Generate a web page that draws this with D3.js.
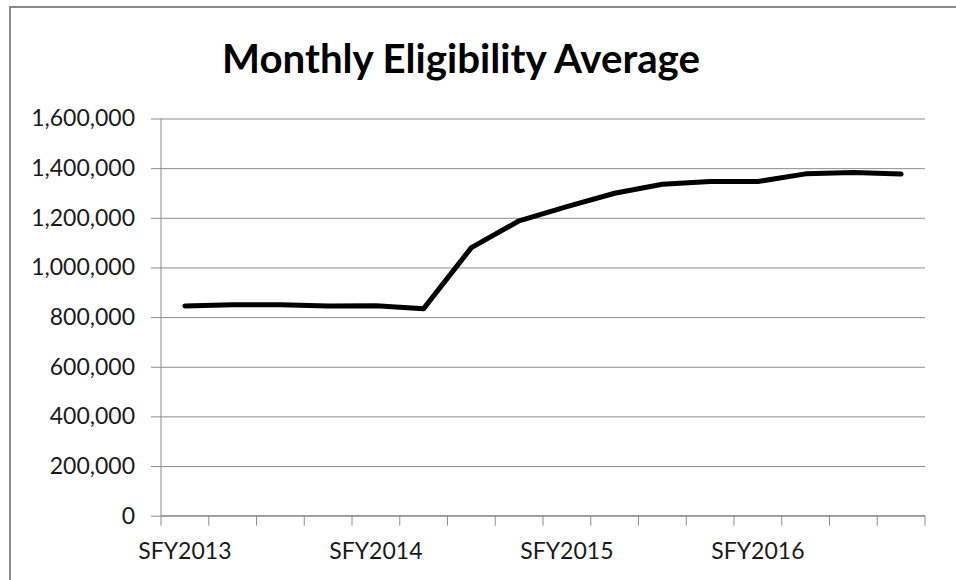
<!DOCTYPE html>
<html><head><meta charset="utf-8">
<script src="https://cdn.jsdelivr.net/npm/d3@7"></script>
<style>
html,body{margin:0;padding:0;background:#fff;}
svg{display:block;}
</style></head>
<body>
<svg id="chart" width="956" height="580"></svg>
<script>
const title = "Monthly Eligibility Average";
const categories = ["SFY2013 Q1","SFY2013 Q2","SFY2013 Q3","SFY2013 Q4",
  "SFY2014 Q1","SFY2014 Q2","SFY2014 Q3","SFY2014 Q4",
  "SFY2015 Q1","SFY2015 Q2","SFY2015 Q3","SFY2015 Q4",
  "SFY2016 Q1","SFY2016 Q2","SFY2016 Q3","SFY2016 Q4"];
const tickLabels = ["SFY2013","","","","SFY2014","","","","SFY2015","","","","SFY2016","","",""];
const values = [845000, 850000, 850000, 845000, 846000, 834000, 1080000, 1188000,
  1245000, 1299000, 1335000, 1346000, 1346000, 1377000, 1382000, 1376000];
const yTicks = [0, 200000, 400000, 600000, 800000, 1000000, 1200000, 1400000, 1600000];

const svg = d3.select("#chart");
const font = "Lato, 'Open Sans', sans-serif";
const gridColor = "#8c8c8c";

// chart border
svg.append("rect").attr("x", 10).attr("y", 7).attr("width", 960).attr("height", 600)
  .attr("fill", "none").attr("stroke", "#8a8a8a").attr("stroke-width", 2);

const pLeft = 161, pRight = 925, pTop = 118.5, pBottom = 515.7;
const x = d3.scaleBand().domain(categories).range([pLeft, pRight]).padding(0);
const y = d3.scaleLinear().domain([0, 1600000]).range([pBottom, pTop]);

// gridlines + y axis
const yAxis = d3.axisLeft(y).tickValues(yTicks).tickFormat(d3.format(",")).tickSize(10).tickPadding(16);
const gy = svg.append("g").attr("transform", `translate(${pLeft},0)`).call(yAxis);
gy.select(".domain").attr("stroke", gridColor).attr("d", `M0,${pTop}V${pBottom}`);
gy.selectAll(".tick line").attr("stroke", gridColor).attr("x1", -10).attr("x2", pRight - pLeft);
gy.selectAll(".tick text").attr("font-family", font).attr("font-size", 23).attr("fill", "#1a1a1a");

// x axis
const xAxis = d3.axisBottom(x).tickSize(0).tickPadding(27).tickFormat((d, i) => tickLabels[i]);
const gx = svg.append("g").attr("transform", `translate(0,${pBottom})`).call(xAxis);
gx.select(".domain").attr("stroke", gridColor).attr("d", `M${pLeft},0H${pRight}`);
gx.selectAll(".tick text").attr("font-family", font).attr("font-size", 23).attr("fill", "#1a1a1a").attr("dy", "0.71em");
const bounds = categories.map(c => x(c)).concat([x.range()[1]]);
gx.selectAll("line.qtick").data(bounds).join("line").attr("class", "qtick")
  .attr("x1", d => d).attr("x2", d => d).attr("y1", 0).attr("y2", 10)
  .attr("stroke", gridColor);

// data line
const line = d3.line().x((d, i) => x(categories[i]) + x.bandwidth() / 2).y(d => y(d));
svg.append("path").datum(values).attr("d", line).attr("fill", "none")
  .attr("stroke", "#000").attr("stroke-width", 5).attr("stroke-linejoin", "round").attr("stroke-linecap", "round");

// title
const t = svg.append("text").attr("x", 461).attr("y", 73).attr("text-anchor", "middle")
  .attr("font-family", font).attr("font-weight", "bold").attr("font-size", 44).attr("fill", "#000").text(title);
const w = t.node().getComputedTextLength();
if (w > 0) t.attr("font-size", 44 * 478 / w);
</script>
</body></html>
